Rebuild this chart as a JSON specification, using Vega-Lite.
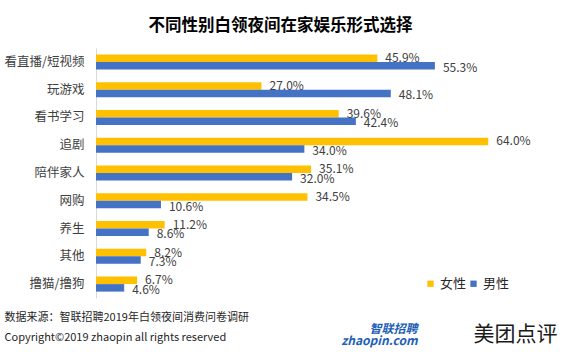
{
  "$schema": "https://vega.github.io/schema/vega-lite/v6.json",
  "width": 429,
  "height": 250,
  "autosize": {"type": "none"},
  "padding": {"left": 96, "top": 48, "right": 40, "bottom": 65},
  "background": "white",
  "config": {"view": {"stroke": null}, "font": "Noto Sans CJK SC"},
  "title": {
    "text": "不同性别白领夜间在家娱乐形式选择",
    "fontSize": 16.5,
    "fontWeight": "bold",
    "color": "#000000",
    "anchor": "middle",
    "dx": -30,
    "offset": 14,
    "font": "Noto Sans CJK SC"
  },
  "data": {
    "values": [
      {"category": "看直播/短视频", "gender": "女性", "value": 0.459},
      {"category": "看直播/短视频", "gender": "男性", "value": 0.553},
      {"category": "玩游戏", "gender": "女性", "value": 0.270},
      {"category": "玩游戏", "gender": "男性", "value": 0.481},
      {"category": "看书学习", "gender": "女性", "value": 0.396},
      {"category": "看书学习", "gender": "男性", "value": 0.424},
      {"category": "追剧", "gender": "女性", "value": 0.640},
      {"category": "追剧", "gender": "男性", "value": 0.340},
      {"category": "陪伴家人", "gender": "女性", "value": 0.351},
      {"category": "陪伴家人", "gender": "男性", "value": 0.320},
      {"category": "网购", "gender": "女性", "value": 0.345},
      {"category": "网购", "gender": "男性", "value": 0.106},
      {"category": "养生", "gender": "女性", "value": 0.112},
      {"category": "养生", "gender": "男性", "value": 0.086},
      {"category": "其他", "gender": "女性", "value": 0.082},
      {"category": "其他", "gender": "男性", "value": 0.073},
      {"category": "撸猫/撸狗", "gender": "女性", "value": 0.067},
      {"category": "撸猫/撸狗", "gender": "男性", "value": 0.046}
    ]
  },
  "layer": [
    {
      "mark": {"type": "bar"},
      "encoding": {
        "y": {
          "field": "category",
          "type": "nominal",
          "sort": ["看直播/短视频", "玩游戏", "看书学习", "追剧", "陪伴家人", "网购", "养生", "其他", "撸猫/撸狗"],
          "scale": {"paddingInner": 0.46, "paddingOuter": 0.23},
          "axis": {
            "labelFontSize": 12.5,
            "labelColor": "#404040",
            "labelPadding": 12,
            "ticks": false,
            "domain": true,
            "domainColor": "#d9d9d9",
            "domainWidth": 1,
            "grid": false,
            "title": "美团点评",
            "titleAngle": 0,
            "titleX": 419,
            "titleY": 286,
            "titleAlign": "center",
            "titleBaseline": "middle",
            "titleFontSize": 21,
            "titleFontWeight": "normal",
            "titleColor": "#1a1a1a",
            "titleFont": "Noto Sans CJK SC"
          }
        },
        "yOffset": {"field": "gender", "type": "nominal", "sort": ["女性", "男性"]},
        "x": {
          "field": "value",
          "type": "quantitative",
          "scale": {"domain": [0, 0.7]},
          "axis": {
            "labels": false,
            "ticks": false,
            "domain": false,
            "grid": false,
            "title": ["数据来源：智联招聘2019年白领夜间消费问卷调研", "Copyright©2019 zhaopin all rights reserved"],
            "titleX": -92,
            "titleY": 19,
            "titleAlign": "left",
            "titleBaseline": "middle",
            "titleFontSize": 11,
            "titleFontWeight": "normal",
            "titleColor": "#262626",
            "titleLineHeight": 20
          }
        },
        "color": {
          "field": "gender",
          "type": "nominal",
          "sort": ["女性", "男性"],
          "scale": {"domain": ["女性", "男性"], "range": ["#FFC000", "#4472C4"]},
          "legend": {
            "orient": "none",
            "legendX": 328,
            "legendY": 229,
            "direction": "horizontal",
            "title": null,
            "symbolType": "square",
            "symbolSize": 40,
            "symbolStrokeWidth": 0,
            "labelFontSize": 13,
            "labelColor": "#262626",
            "columnPadding": 0,
            "labelOffset": 3
          }
        }
      }
    },
    {
      "transform": [{"filter": "datum.gender === '女性'"}],
      "mark": {"type": "text", "align": "left", "baseline": "middle", "dx": 8, "fontSize": 12, "color": "#404040"},
      "encoding": {
        "y": {
          "field": "category",
          "type": "nominal",
          "sort": ["看直播/短视频", "玩游戏", "看书学习", "追剧", "陪伴家人", "网购", "养生", "其他", "撸猫/撸狗"],
          "axis": {
            "orient": "right",
            "labels": false,
            "ticks": false,
            "domain": false,
            "grid": false,
            "title": ["智联招聘", "zhaopin.com"],
            "titleAngle": 0,
            "titleX": -108,
            "titleY": 280,
            "titleAlign": "right",
            "titleBaseline": "middle",
            "titleFontSize": 12,
            "titleFontWeight": "bold",
            "titleFontStyle": "italic",
            "titleColor": "#1f5fb5",
            "titleLineHeight": 12
          }
        },
        "yOffset": {"field": "gender", "type": "nominal", "sort": ["女性", "男性"]},
        "x": {"field": "value", "type": "quantitative"},
        "text": {"field": "value", "type": "quantitative", "format": ".1%"}
      }
    },
    {
      "transform": [{"filter": "datum.gender === '男性'"}],
      "mark": {"type": "text", "align": "left", "baseline": "middle", "dx": 8, "dy": 2, "fontSize": 12, "color": "#404040"},
      "encoding": {
        "y": {
          "field": "category",
          "type": "nominal",
          "sort": ["看直播/短视频", "玩游戏", "看书学习", "追剧", "陪伴家人", "网购", "养生", "其他", "撸猫/撸狗"],
          "axis": null
        },
        "yOffset": {"field": "gender", "type": "nominal", "sort": ["女性", "男性"]},
        "x": {"field": "value", "type": "quantitative"},
        "text": {"field": "value", "type": "quantitative", "format": ".1%"}
      }
    }
  ],
  "resolve": {"axis": {"y": "independent"}}
}
